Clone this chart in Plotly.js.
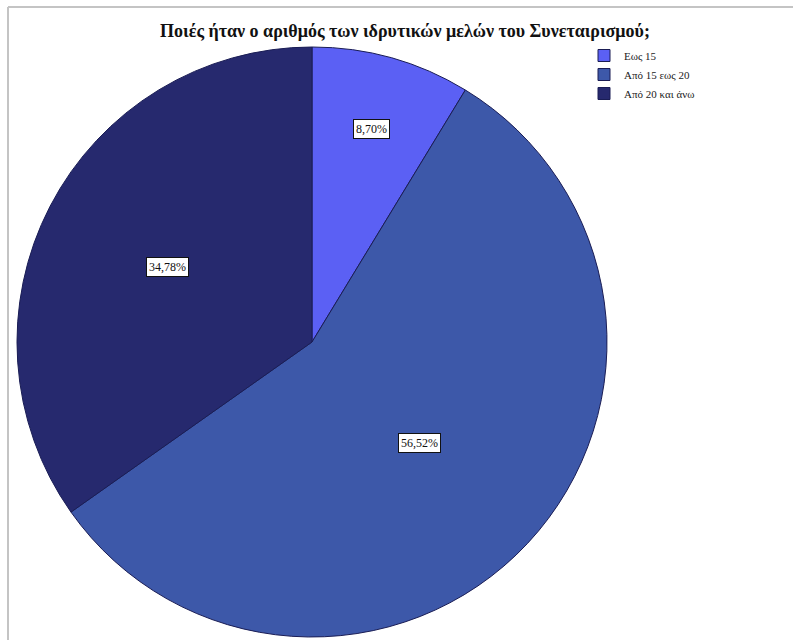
<!DOCTYPE html>
<html>
<head>
<meta charset="utf-8">
<script src="https://cdn.plot.ly/plotly-3.0.1.min.js"></script>
<style>html,body{margin:0;padding:0;background:#fff;}#chart{width:793px;height:640px;}</style>
</head>
<body>
<div id="chart"></div>
<script>
const categories = ["Εως 15", "Από 15 εως 20", "Από 20 και άνω"];
const values = [8.70, 56.52, 34.78];
const colors = ["#5b60f4", "#3d58a9", "#26296e"];
const titleText = "Ποιές ήταν ο αριθμός των ιδρυτικών μελών του Συνεταιρισμού;";

const W = 793, H = 640;
const cx = 312, cy = 342, R = 295;
const dom = {x: [(cx - R) / W, (cx + R) / W], y: [1 - (cy + R) / H, 1 - (cy - R) / H]};

// label positions derived from the data (mid-angle of each slice)
const labelRadius = [0.75, 0.5, 0.55];
const total = values.reduce((a, b) => a + b, 0);
let acc = 0;
const annotations = values.map((v, i) => {
  const mid = (acc + v / 2) / total * 2 * Math.PI;
  acc += v;
  const px = cx + Math.sin(mid) * R * labelRadius[i];
  const py = cy - Math.cos(mid) * R * labelRadius[i];
  return {
    x: px / W, y: 1 - py / H, xref: "paper", yref: "paper", xanchor: "center", yanchor: "middle",
    text: v.toFixed(2).replace(".", ",") + "%",
    showarrow: false, bgcolor: "#ffffff", bordercolor: "#111111", borderwidth: 1, borderpad: 2,
    font: {family: "Liberation Serif, serif", size: 12, color: "#111"}
  };
});

const data = [{
  type: "pie",
  labels: categories,
  values: values,
  sort: false,
  direction: "clockwise",
  rotation: 0,
  marker: {colors: colors, line: {color: "#1a1d55", width: 1}},
  textinfo: "none",
  hoverinfo: "label+percent",
  domain: dom
}];

const layout = {
  width: W, height: H,
  margin: {l: 0, r: 0, t: 0, b: 0},
  paper_bgcolor: "#ffffff",
  separators: ",.",
  title: {text: "<b>" + titleText + "</b>", x: 405 / W, xanchor: "center", y: 1 - 31 / H, yanchor: "middle",
          font: {family: "Liberation Serif, serif", size: 18, color: "#111"}},
  showlegend: true,
  legend: {x: 584 / W, y: 1 - 41 / H, xanchor: "left", yanchor: "top",
           font: {family: "Liberation Serif, serif", size: 11, color: "#222"},
           itemwidth: 30, tracegroupgap: 0, bgcolor: "rgba(0,0,0,0)"},
  annotations: annotations,
  shapes: [
    {type: "line", xref: "paper", yref: "paper", x0: 8 / W, x1: 1, y0: 1 - 7 / H, y1: 1 - 7 / H, line: {color: "#c4c4c4", width: 2}},
    {type: "line", xref: "paper", yref: "paper", x0: 8 / W, x1: 8 / W, y0: 0, y1: 1 - 7 / H, line: {color: "#c4c4c4", width: 2}}
  ]
};

Plotly.newPlot("chart", data, layout, {displayModeBar: false});
</script>
</body>
</html>
